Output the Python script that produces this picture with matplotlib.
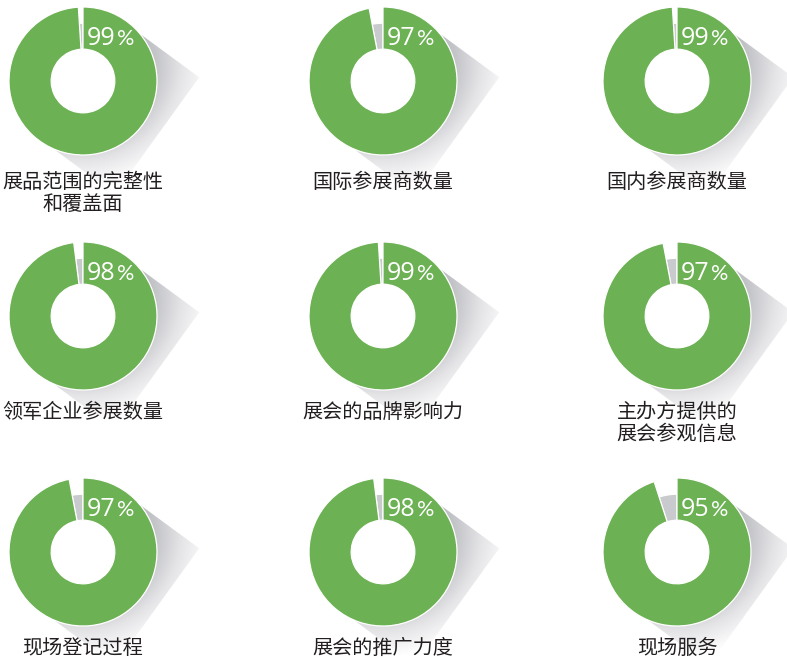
import numpy as np
import matplotlib.pyplot as plt
from matplotlib.patches import Polygon, Circle
from matplotlib.colors import LinearSegmentedColormap

plt.rcParams['font.family'] = ['Noto Sans CJK SC', 'DejaVu Sans']

# satisfaction scores
values = [99, 97, 99, 98, 99, 97, 97, 98, 95]
labels = ['展品范围的完整性\n和覆盖面', '国际参展商数量', '国内参展商数量',
          '领军企业参展数量', '展会的品牌影响力', '主办方提供的\n展会参观信息',
          '现场登记过程', '展会的推广力度', '现场服务']

W, H = 787, 659
col_x = [83, 383, 677]
row_y = [81, 316, 552]      # image rows (from top)
label_dy = [91, 86, 86]
R = 74

green = '#6cb153'
grey = '#c9cacd'
text_col = '#231f20'

# long shadow shape, in units of R (y up)
shadow_pts = np.array([(0, 0), (0.74, 0.66), (1.57, 0.05), (0.43, -1.53), (-0.38, -0.93)])
shadow_cmap = LinearSegmentedColormap.from_list('shadow', ['#bcbdc1', '#e4e4e7', '#ffffff'])

fig = plt.figure(figsize=(W / 100, H / 100), dpi=100)
ax = fig.add_axes([0, 0, 1, 1])
ax.set_xlim(0, W)
ax.set_ylim(0, H)

g = np.linspace(-1.7, 1.7, 300)
X, Y = np.meshgrid(g, g)
# mostly radial fade, a little darker towards the top
shade = np.clip((np.hypot(X, Y) - 1) / 0.6 * 0.7 + (0.6 - Y) * 0.25, 0, 1)

pct_texts = []
for i, (val, label) in enumerate(zip(values, labels)):
    cx = col_x[i % 3]
    cy = H - row_y[i // 3]

    # shadow
    clip = Polygon(shadow_pts * R + [cx, cy], closed=True, fc='none', ec='none')
    ax.add_patch(clip)
    im = ax.imshow(shade, cmap=shadow_cmap, vmin=0, vmax=1, origin='lower',
                   extent=[cx - 1.7 * R, cx + 1.7 * R, cy - 1.7 * R, cy + 1.7 * R], zorder=1)
    im.set_clip_path(clip)
    ax.add_patch(Circle((cx, cy), R * 1.0, fc='white', ec='none', zorder=1.5))

    # grey remainder (smaller radius)
    w1, _ = ax.pie([val, 100 - val], radius=R * 0.78, center=(cx, cy), startangle=90,
                   counterclock=False, colors=[grey, grey],
                   wedgeprops=dict(width=R * 0.35, edgecolor='white', linewidth=0.8))
    w1[0].set_visible(False)
    for w in w1:
        w.set_zorder(2)

    # green share
    w2, _ = ax.pie([val, 100 - val], radius=R, center=(cx, cy), startangle=90,
                   counterclock=False, colors=[green, green],
                   wedgeprops=dict(width=R * 0.57, edgecolor='white', linewidth=0.9))
    w2[1].set_visible(False)
    for w in w2:
        w.set_zorder(3)

    t1 = ax.text(cx + 4, cy + 0.49 * R, str(val), fontsize=18, color='white',
                 family='Open Sans', ha='left', va='baseline', zorder=4)
    pct_texts.append(t1)

    ax.text(cx, cy - label_dy[i // 3], label, fontsize=14.5, color=text_col,
            ha='center', va='top', linespacing=1.05, zorder=4)

ax.set_xlim(0, W)
ax.set_ylim(0, H)
ax.set_aspect('auto')
ax.axis('off')

# put the smaller "%" right after each number, on the same baseline
fig.canvas.draw()
for t1 in pct_texts:
    bb = t1.get_window_extent()
    x_end = ax.transData.inverted().transform((bb.x1, bb.y0))[0]
    ax.text(x_end + 1, t1.get_position()[1], '%', fontsize=15.5, color='white',
            family='Lato', ha='left', va='baseline', zorder=4)

fig.savefig('out.png', dpi=100)
